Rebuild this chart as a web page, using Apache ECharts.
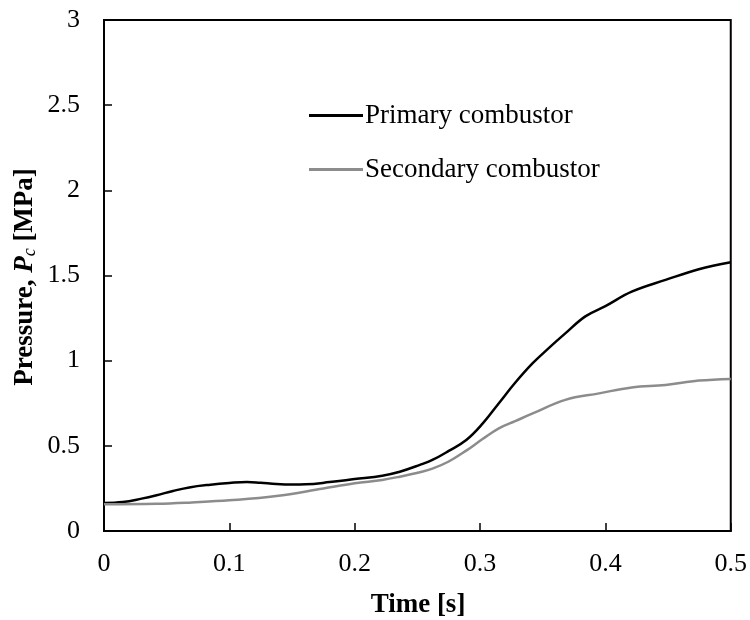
<!DOCTYPE html>
<html>
<head>
<meta charset="utf-8">
<script src="https://cdn.jsdelivr.net/npm/echarts@6/dist/echarts.min.js"></script>
<style>
html,body{margin:0;padding:0;background:#fff;}
#chart{width:750px;height:620px;}
</style>
</head>
<body>
<div id="chart"></div>
<script>
var seriesNames = ['Primary combustor', 'Secondary combustor'];
var timePrimary = [0, 0.015, 0.03, 0.042, 0.055, 0.068, 0.085, 0.1, 0.114, 0.125, 0.1375, 0.15, 0.161, 0.18, 0.2, 0.222, 0.236, 0.252, 0.262, 0.275, 0.289, 0.302, 0.315, 0.328, 0.342, 0.355, 0.368, 0.384, 0.4, 0.421, 0.448, 0.4745, 0.5];
var pressPrimary = [0.165, 0.17, 0.19, 0.21, 0.235, 0.256, 0.272, 0.282, 0.288, 0.283, 0.276, 0.273, 0.274, 0.287, 0.305, 0.325, 0.348, 0.388, 0.417, 0.47, 0.534, 0.63, 0.75, 0.87, 0.985, 1.075, 1.16, 1.26, 1.32, 1.405, 1.474, 1.537, 1.578];
var timeSecondary = [0, 0.042, 0.07, 0.1, 0.1375, 0.175, 0.2, 0.222, 0.236, 0.252, 0.262, 0.275, 0.289, 0.302, 0.315, 0.328, 0.342, 0.368, 0.395, 0.421, 0.448, 0.4745, 0.5];
var pressSecondary = [0.157, 0.16, 0.168, 0.18, 0.205, 0.25, 0.28, 0.30, 0.319, 0.345, 0.366, 0.408, 0.472, 0.54, 0.603, 0.645, 0.69, 0.77, 0.808, 0.843, 0.857, 0.883, 0.893];

function pairs(xs, ys) { return xs.map(function (x, i) { return [x, ys[i]]; }); }

var FONT = 'Liberation Serif';
var chart = echarts.init(document.getElementById('chart'), null, {renderer: 'canvas'});
chart.setOption({
  animation: false,
  backgroundColor: '#fff',
  grid: {left: 104, right: 18, top: 20, bottom: 89, show: true, borderColor: '#000', borderWidth: 2, backgroundColor: 'transparent'},
  xAxis: {
    type: 'value', min: 0, max: 0.5, interval: 0.1,
    axisLine: {lineStyle: {color: '#000', width: 2}},
    axisTick: {inside: true, length: 8, lineStyle: {color: '#000', width: 1.5}},
    splitLine: {show: false},
    axisLabel: {color: '#000', fontFamily: FONT, fontSize: 26, margin: 20}
  },
  yAxis: {
    type: 'value', min: 0, max: 3, interval: 0.5,
    axisLine: {show: true, lineStyle: {color: '#000', width: 2}},
    axisTick: {show: true, inside: true, length: 8, lineStyle: {color: '#000', width: 1.5}},
    splitLine: {show: false},
    axisLabel: {color: '#000', fontFamily: FONT, fontSize: 26, margin: 24}
  },
  legend: {
    orient: 'vertical', left: 304, top: 97, itemGap: 27, itemWidth: 54, itemHeight: 3, icon: 'rect',
    textStyle: {color: '#000', fontFamily: FONT, fontSize: 27, padding: [0, 0, 0, -3]},
    data: seriesNames
  },
  graphic: [
    {
      type: 'text', x: 25, y: 277, rotation: Math.PI / 2,
      style: {
        text: '{b|Pressure, }{i|P}{s|c}{b| [MPa]}',
        align: 'center', verticalAlign: 'middle',
        rich: {
          b: {fontFamily: FONT, fontSize: 27, fontWeight: 'bold', fill: '#000'},
          i: {fontFamily: FONT, fontSize: 27, fontWeight: 'bold', fontStyle: 'italic', fill: '#000'},
          s: {fontFamily: FONT, fontSize: 18, fontStyle: 'italic', fill: '#000', verticalAlign: 'bottom', padding: [10, 0, 0, 0]}
        }
      }
    },
    {
      type: 'text', x: 418, y: 605,
      style: {text: 'Time [s]', align: 'center', verticalAlign: 'middle', fontFamily: FONT, fontSize: 27, fontWeight: 'bold', fill: '#000'}
    }
  ],
  series: [
    {name: seriesNames[0], type: 'line', smooth: 0.4, showSymbol: false, data: pairs(timePrimary, pressPrimary), lineStyle: {color: '#000', width: 2.5}, itemStyle: {color: '#000'}},
    {name: seriesNames[1], type: 'line', smooth: 0.4, showSymbol: false, data: pairs(timeSecondary, pressSecondary), lineStyle: {color: '#8c8c8c', width: 2.5}, itemStyle: {color: '#8c8c8c'}}
  ]
});
</script>
</body>
</html>
